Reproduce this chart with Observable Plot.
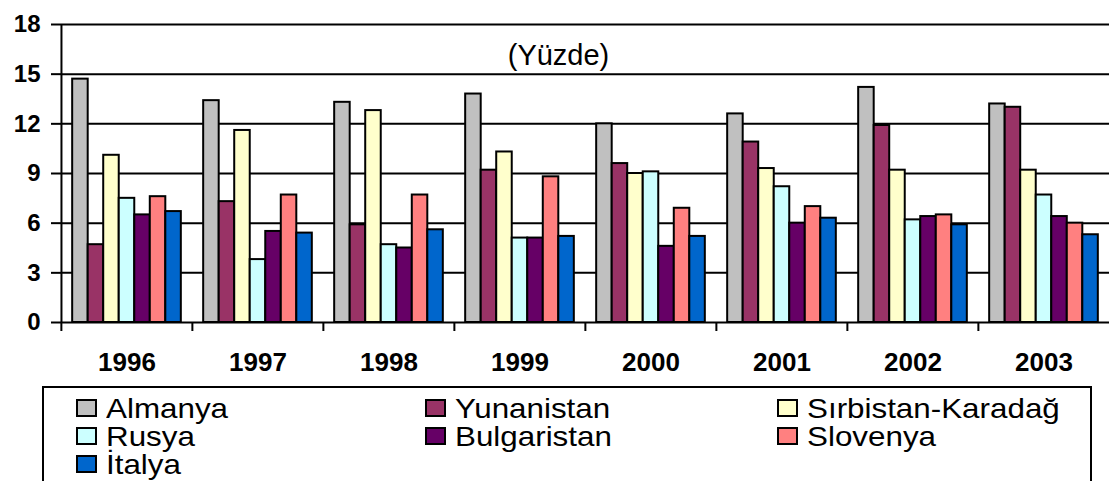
<!DOCTYPE html>
<html><head><meta charset="utf-8">
<script src="https://cdn.jsdelivr.net/npm/d3@7"></script>
<script src="https://cdn.jsdelivr.net/npm/@observablehq/plot@0.6"></script>
<style>
body{margin:0;background:#fff;width:1110px;height:481px;overflow:hidden;font-family:"Liberation Sans",Arial,sans-serif;}
#wrap{position:relative;width:1110px;height:481px;}
#legend{position:absolute;left:42px;top:386px;width:1050px;height:130px;box-sizing:border-box;border:2px solid #000;
  padding:7px 0 0 32px;display:grid;grid-template-columns:349px 352px auto;grid-auto-rows:28px;}
.item{display:flex;align-items:flex-start;height:28px;line-height:28px;font-size:28px;white-space:nowrap;}
.sw{width:17px;height:14px;border:2px solid #000;margin-top:4px;flex:none;}
.lab{display:inline-block;margin-left:9px;transform:scaleX(1.12);transform-origin:0 50%;}
</style></head>
<body><div id="wrap"></div>
<script>
const years = ["1996","1997","1998","1999","2000","2001","2002","2003"];
const series = ["Almanya","Yunanistan","Sırbistan-Karadağ","Rusya","Bulgaristan","Slovenya","İtalya"];
const colors = ["#C0C0C0","#993366","#FFFFCC","#CCFFFF","#660066","#FF8080","#0066CC"];
const almanya     = [14.7,13.4,13.3,13.8,12.0,12.6,14.2,13.2];
const yunanistan  = [4.7, 7.3, 5.9, 9.2, 9.6,10.9,11.9,13.0];
const sirbistan   = [10.1,11.6,12.8,10.3,9.0, 9.3, 9.2, 9.2];
const rusya       = [7.5, 3.8, 4.7, 5.1, 9.1, 8.2, 6.2, 7.7];
const bulgaristan = [6.5, 5.5, 4.5, 5.1, 4.6, 6.0, 6.4, 6.4];
const slovenya    = [7.6, 7.7, 7.7, 8.8, 6.9, 7.0, 6.5, 6.0];
const italya      = [6.7, 5.4, 5.6, 5.2, 5.2, 6.3, 5.9, 5.3];
const yTicks = [0,3,6,9,12,15,18];
const unitLabel = "(Yüzde)";

const values = [almanya,yunanistan,sirbistan,rusya,bulgaristan,slovenya,italya];
const data = years.flatMap((yr,i)=>series.map((s,j)=>({year:yr, series:s, value:values[j][i]})));

const W=1110, H=380, mL=60, mR=0, mT=24, mB=58;
const pad=0.72;
const facetW=(W-mL-mR)/years.length;
const step=facetW/(series.length+2*pad);

const chart = Plot.plot({
  width:W, height:H, marginLeft:mL, marginRight:mR, marginTop:mT, marginBottom:mB,
  style:{fontFamily:'"Liberation Sans", Arial, sans-serif', color:"black", background:"white", overflow:"visible"},
  fx:{domain:years, padding:0, label:null},
  x:{domain:series, paddingInner:0, paddingOuter:pad, round:false, axis:null},
  y:{domain:[0,18], label:null},
  color:{domain:series, range:colors},
  marks:[
    Plot.ruleY(yTicks,{stroke:"black",strokeWidth:2}),
    Plot.barY(data,{fx:"year",x:"series",y:"value",fill:"series",stroke:"black",strokeWidth:2}),
    Plot.ruleX([years[0]],{fx:d=>d,x:()=>series[0],y1:0,y2:18,dx:-step*(0.5+pad),stroke:"black",strokeWidth:2}),
    Plot.axisY({ticks:yTicks,tickFormat:d=>String(d),tickSize:10,tickPadding:11,fontSize:24,fontWeight:"bold",strokeWidth:2,label:null}),
    Plot.axisFx({anchor:"bottom",tickSize:0,tickPadding:30,fontSize:26,fontWeight:"bold",label:null}),
    Plot.axisFx({anchor:"bottom",tickSize:9,text:null,dx:-facetW/2,strokeWidth:2,label:null}),
    Plot.text([unitLabel],{facet:"super",frameAnchor:"top",dx:-27,dy:20,fontSize:29})
  ]
});
const wrap=document.getElementById("wrap");
wrap.appendChild(chart);
const legend=document.createElement("div");
legend.id="legend";
series.forEach((s,i)=>{
  const it=document.createElement("div"); it.className="item";
  const sw=document.createElement("span"); sw.className="sw"; sw.style.background=colors[i];
  const lb=document.createElement("span"); lb.className="lab"; lb.textContent=s;
  it.appendChild(sw); it.appendChild(lb); legend.appendChild(it);
});
wrap.appendChild(legend);
</script></body></html>
